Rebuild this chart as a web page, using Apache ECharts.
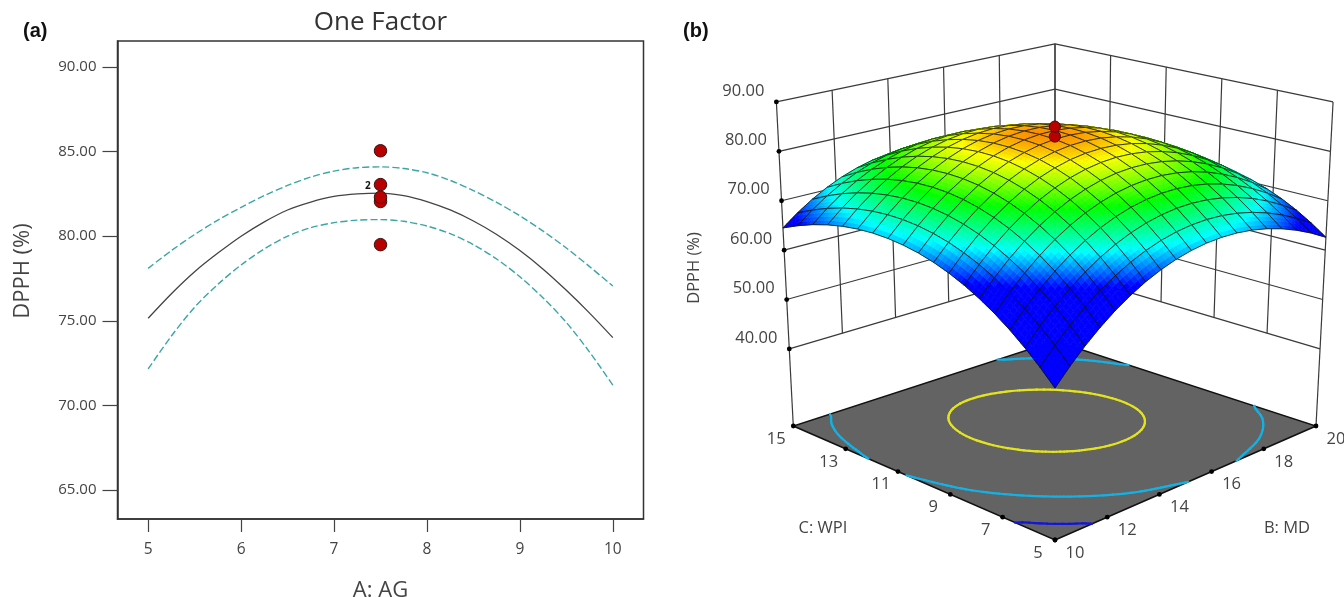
<!DOCTYPE html>
<html>
<head>
<meta charset="utf-8">
<style>html,body{margin:0;padding:0;background:#fff}#chart{width:1344px;height:597px}</style>
<script src="https://cdn.jsdelivr.net/npm/echarts@6/dist/echarts.min.js"></script>
</head>
<body>
<div id="chart"></div>
<script>
// ---------- panel (a) values ----------
const agValues = [5,5.25,5.5,5.75,6,6.25,6.5,6.75,7,7.25,7.5,7.75,8,8.25,8.5,8.75,9,9.25,9.5,9.75,10];
const meanCurve = [75.15,76.6,77.9,79.0,80.0,80.85,81.55,82.02,82.35,82.5,82.55,82.4,82.05,81.55,80.9,80.1,79.15,78.05,76.8,75.45,74.0];
const upperBand = [78.1,79.15,80.1,80.95,81.7,82.4,83.0,83.5,83.85,84.05,84.1,84.0,83.75,83.3,82.7,82.0,81.2,80.3,79.3,78.2,77.05];
const lowerBand = [72.15,74.1,75.8,77.15,78.3,79.25,80.0,80.5,80.8,80.95,80.98,80.88,80.6,80.15,79.5,78.65,77.6,76.35,74.9,73.15,71.2];
const designX = [7.5, 7.5, 7.5, 7.5, 7.5];
const designY = [85.05, 83.05, 82.05, 82.3, 79.5];
const agTicks = [5, 6, 7, 8, 9, 10];
const dpphTicks = [65, 70, 75, 80, 85, 90];

// ---------- panel (b) values ----------
const mdTicks = [10, 12, 14, 16, 18, 20];
const wpiTicks = [5, 7, 9, 11, 13, 15];
const surfaceZTicks = [40, 50, 60, 70, 80, 90];
const surfacePoints = [83.05, 85.05];
const contourLevels = [60, 69.7, 80];
const mdGrid = [10,10.556,11.111,11.667,12.222,12.778,13.333,13.889,14.444,15,15.556,16.111,16.667,17.222,17.778,18.333,18.889,19.444,20];
const wpiGrid = [5,5.556,6.111,6.667,7.222,7.778,8.333,8.889,9.444,10,10.556,11.111,11.667,12.222,12.778,13.333,13.889,14.444,15];
// one row per WPI value, one column per MD value
const dpphRows = [
[52.80,55.84,58.59,61.04,63.21,65.07,66.65,67.92,68.91,69.60,70.00,70.10,69.91,69.43,68.65,67.58,66.21,64.55,62.60],
[55.64,58.64,61.35,63.76,65.88,67.70,69.24,70.47,71.42,72.07,72.42,72.48,72.25,71.72,70.90,69.79,68.38,66.68,64.69],
[58.23,61.19,63.85,66.22,68.30,70.08,71.57,72.76,73.67,74.27,74.59,74.61,74.33,73.76,72.90,71.75,70.30,68.55,66.52],
[60.56,63.47,66.09,68.42,70.46,72.20,73.65,74.80,75.66,76.22,76.50,76.47,76.16,75.55,74.64,73.45,71.95,70.17,68.09],
[62.63,65.50,68.08,70.37,72.36,74.06,75.46,76.57,77.39,77.91,78.14,78.08,77.72,77.07,76.12,74.88,73.35,71.52,69.40],
[64.44,67.27,69.81,72.05,74.00,75.66,77.02,78.09,78.87,79.35,79.53,79.43,79.03,78.33,77.35,76.07,74.49,72.62,70.46],
[65.99,68.78,71.28,73.48,75.39,77.00,78.32,79.35,80.08,80.52,80.67,80.52,80.08,79.34,78.31,76.99,75.37,73.46,71.26],
[67.28,70.03,72.49,74.65,76.51,78.09,79.37,80.35,81.04,81.44,81.54,81.35,80.87,80.09,79.02,77.66,75.99,74.04,71.80],
[68.32,71.03,73.44,75.56,77.38,78.91,80.15,81.09,81.74,82.10,82.16,81.93,81.40,80.58,79.47,78.06,76.36,74.37,72.08],
[69.10,71.76,74.13,76.21,77.99,79.48,80.68,81.58,82.19,82.50,82.52,82.25,81.68,80.82,79.66,78.21,76.47,74.43,72.10],
[69.62,72.24,74.57,76.61,78.35,79.79,80.95,81.81,82.37,82.64,82.62,82.30,81.70,80.79,79.59,78.10,76.32,74.24,71.87],
[69.88,72.46,74.75,76.74,78.44,79.85,80.96,81.78,82.30,82.53,82.46,82.11,81.45,80.51,79.27,77.74,75.91,73.79,71.37],
[69.89,72.43,74.67,76.62,78.28,79.64,80.71,81.49,81.97,82.16,82.05,81.65,80.96,79.97,78.69,77.11,75.24,73.08,70.62],
[69.64,72.13,74.33,76.24,77.86,79.18,80.21,80.94,81.38,81.53,81.38,80.93,80.20,79.17,77.85,76.23,74.32,72.11,69.61],
[69.13,71.58,73.74,75.61,77.18,78.46,79.44,80.13,80.53,80.64,80.45,79.96,79.18,78.11,76.75,75.09,73.13,70.89,68.35],
[68.36,70.77,72.89,74.71,76.24,77.48,78.42,79.07,79.43,79.49,79.26,78.73,77.91,76.80,75.39,73.69,71.69,69.40,66.82],
[67.33,69.70,71.78,73.56,75.05,76.24,77.14,77.75,78.07,78.09,77.81,77.24,76.38,75.23,73.78,72.03,70.00,67.67,65.04],
[66.04,68.37,70.41,72.15,73.59,74.75,75.61,76.17,76.44,76.42,76.11,75.50,74.59,73.39,71.90,70.12,68.04,65.67,63.00],
[64.50,66.79,68.78,70.48,71.88,72.99,73.81,74.33,74.56,74.50,74.14,73.49,72.55,71.31,69.77,67.94,65.82,63.41,60.70]
];

const FONT = '"Open Sans","Noto Sans",sans-serif';
const INK = '#444';

// ---------- view of the 3D box (pixel space of the hidden second grid) ----------
const FLOOR_Z = 24.4;
function project(md, wpi, z) {
  const u = (md - 15) / 5, v = (wpi - 10) / 5, h = z - FLOOR_Z;
  const L = [793.3 - 0.258 * h, 426 - 4.94 * h];
  const R = [1316 + 0.26 * h, 426 - 4.94 * h];
  const B = [1055, 341 - 4.53 * h];
  const F = [1055, 540 - 5.35 * h];
  const wL = (1 - u) * (1 + v) / 4, wR = (1 + u) * (1 - v) / 4, wB = (1 + u) * (1 + v) / 4, wF = (1 - u) * (1 - v) / 4;
  return [
    wL * L[0] + wR * R[0] + wB * B[0] + wF * F[0],
    wL * L[1] + wR * R[1] + wB * B[1] + wF * F[1] - 7 * (1 - u * u) * (1 - v * v)
  ];
}
const colorStops = [[66.3, [0,0,255]], [70.8, [0,255,255]], [76, [0,255,0]], [80.8, [255,255,0]], [82.7, [255,136,0]]];
function surfaceColor(z) {
  if (z <= colorStops[0][0]) return 'rgb(0,0,255)';
  for (let i = 1; i < colorStops.length; i++) {
    if (z <= colorStops[i][0]) {
      const a = colorStops[i - 1], b = colorStops[i], t = (z - a[0]) / (b[0] - a[0]);
      return 'rgb(' + a[1].map((c, k) => Math.round(c + (b[1][k] - c) * t)).join(',') + ')';
    }
  }
  return 'rgb(255,136,0)';
}
function layer(name, items, draw, z) {
  return {
    type: 'custom', name, coordinateSystem: 'cartesian2d', xAxisIndex: 1, yAxisIndex: 1,
    data: items.map((_, i) => [i, 0]), clip: false, silent: true, animation: false, progressive: 0, z,
    renderItem: (p, api) => draw(items[p.dataIndex], api)
  };
}
const at = (api, md, wpi, z) => api.coord(project(md, wpi, z));

// walls
const wallLines = [];
const mdMin = mdTicks[0], mdMax = mdTicks[5], wMin = wpiTicks[0], wMax = wpiTicks[5];
const zLow = surfaceZTicks[0], zTop = surfaceZTicks[5];
surfaceZTicks.forEach(z => {
  wallLines.push([[mdMin, wMax, z], [mdMax, wMax, z]]);
  wallLines.push([[mdMax, wMin, z], [mdMax, wMax, z]]);
});
mdTicks.slice(1).forEach(b => wallLines.push([[b, wMax, zLow], [b, wMax, zTop]]));
wpiTicks.slice(1).forEach(c => wallLines.push([[mdMax, c, zLow], [mdMax, c, zTop]]));
wallLines.push([[mdMin, wMax, FLOOR_Z], [mdMin, wMax, zTop]]);
wallLines.push([[mdMax, wMin, FLOOR_Z], [mdMax, wMin, zTop]]);
function drawSegment(seg, api) {
  const a = at(api, ...seg[0]), b = at(api, ...seg[1]);
  return { type: 'line', shape: { x1: a[0], y1: a[1], x2: b[0], y2: b[1] }, style: { stroke: '#3a3a3a', lineWidth: 1.2 } };
}

// floor
function drawFloor(_, api) {
  const pts = [[mdMin, wMin], [mdMax, wMin], [mdMax, wMax], [mdMin, wMax]].map(p => at(api, p[0], p[1], FLOOR_Z));
  return { type: 'polygon', shape: { points: pts }, style: { fill: '#636363', stroke: '#111', lineWidth: 1.5 } };
}

// floor contours traced through the value table on a finer smooth lookup
const contourColors = { 60: '#1414e0', 69.7: '#12b2e6', 80: '#e4e41c' };
const CR = (a, b, c, d, t) => 0.5 * (2 * b + (c - a) * t + (2 * a - 5 * b + 4 * c - d) * t * t + (3 * b - a - 3 * c + d) * t * t * t);
const N = mdGrid.length - 1, FINE = 4;
const idx = k => Math.max(0, Math.min(N, k));
function rowAt(r, s) {
  const i = Math.min(N - 1, Math.floor(s)), t = s - i, R = dpphRows[r];
  return CR(R[idx(i - 1)], R[i], R[i + 1], R[idx(i + 2)], t);
}
function zFine(s, q) {
  const j = Math.min(N - 1, Math.floor(q)), t = q - j;
  return CR(rowAt(idx(j - 1), s), rowAt(j, s), rowAt(j + 1, s), rowAt(idx(j + 2), s), t);
}
function drawContour(level, api) {
  const children = [], M = N * FINE;
  const toMd = s => mdMin + (mdMax - mdMin) * s / M, toW = q => wMin + (wMax - wMin) * q / M;
  for (let j = 0; j < M; j++) for (let i = 0; i < M; i++) {
    const c = [[i, j], [i + 1, j], [i + 1, j + 1], [i, j + 1]];
    const zs = c.map(p => zFine(p[0] / FINE, p[1] / FINE));
    const hits = [];
    for (let k = 0; k < 4; k++) {
      const p = c[k], q = c[(k + 1) % 4], zp = zs[k], zq = zs[(k + 1) % 4];
      if ((zp < level) !== (zq < level)) {
        const t = (level - zp) / (zq - zp);
        hits.push(at(api, toMd(p[0] + (q[0] - p[0]) * t), toW(p[1] + (q[1] - p[1]) * t), FLOOR_Z));
      }
    }
    for (let h = 0; h + 1 < hits.length; h += 2) {
      children.push({ type: 'line', shape: { x1: hits[h][0], y1: hits[h][1], x2: hits[h + 1][0], y2: hits[h + 1][1] },
        style: { stroke: contourColors[level], lineWidth: 2.2, lineCap: 'round' } });
    }
  }
  return { type: 'group', children };
}

// surface cells, far corner first
const cells = [];
for (let j = 0; j < N; j++) for (let i = 0; i < N; i++) cells.push([i, j]);
cells.sort((p, q) => (q[0] + q[1]) - (p[0] + p[1]));
const SUB = 4;
function drawCell(cell, api) {
  const i = cell[0], j = cell[1];
  const b0 = mdGrid[i], b1 = mdGrid[i + 1], c0 = wpiGrid[j], c1 = wpiGrid[j + 1];
  const z00 = dpphRows[j][i], z10 = dpphRows[j][i + 1], z01 = dpphRows[j + 1][i], z11 = dpphRows[j + 1][i + 1];
  const sample = (s, t) => {
    const z = (1 - s) * (1 - t) * z00 + s * (1 - t) * z10 + (1 - s) * t * z01 + s * t * z11;
    return { z, p: at(api, b0 + (b1 - b0) * s, c0 + (c1 - c0) * t, z) };
  };
  const children = [];
  for (let m = 0; m < SUB; m++) for (let n = 0; n < SUB; n++) {
    const a = sample(m / SUB, n / SUB), b = sample((m + 1) / SUB, n / SUB), c = sample((m + 1) / SUB, (n + 1) / SUB), d = sample(m / SUB, (n + 1) / SUB);
    const col = surfaceColor((a.z + b.z + c.z + d.z) / 4);
    children.push({ type: 'polygon', shape: { points: [a.p, b.p, c.p, d.p] }, style: { fill: col, stroke: col, lineWidth: 0.7 } });
  }
  const outline = [sample(0, 0).p, sample(1, 0).p, sample(1, 1).p, sample(0, 1).p];
  children.push({ type: 'polygon', shape: { points: outline }, style: { fill: 'none', stroke: 'rgba(10,20,10,0.78)', lineWidth: 1 } });
  return { type: 'group', children };
}

// design points above the surface
function drawPoint(z, api) {
  const p = at(api, 15, 10, z);
  return { type: 'circle', shape: { cx: p[0], cy: p[1], r: 5.6 }, style: { fill: '#b80000', stroke: '#3a1010', lineWidth: 1 } };
}

// axis dots and texts
const dots = [];
surfaceZTicks.forEach(z => dots.push([mdMin, wMax, z]));
mdTicks.forEach(b => dots.push([b, wMin, FLOOR_Z]));
wpiTicks.forEach(c => dots.push([mdMin, c, FLOOR_Z]));
function drawDot(d, api) {
  const p = at(api, d[0], d[1], d[2]);
  return { type: 'circle', shape: { cx: p[0], cy: p[1], r: 2.4 }, style: { fill: '#000' } };
}
const texts = [];
surfaceZTicks.forEach(z => texts.push({ at: [mdMin, wMax, z], dx: -33, dy: -11, t: z.toFixed(2) }));
mdTicks.forEach(b => texts.push({ at: [b, wMin, FLOOR_Z], dx: 20, dy: 13, t: String(b) }));
wpiTicks.forEach(c => texts.push({ at: [mdMin, c, FLOOR_Z], dx: -17, dy: 13, t: String(c) }));
texts.push({ xy: [823, 528], t: 'C: WPI' });
texts.push({ xy: [1287, 528], t: 'B: MD' });
texts.push({ xy: [694, 268], t: 'DPPH (%)', rot: Math.PI / 2 });
function drawText(o, api) {
  const p = o.xy ? api.coord(o.xy) : at(api, ...o.at);
  return { type: 'text', x: p[0] + (o.dx || 0), y: p[1] + (o.dy || 0), rotation: o.rot || 0,
    style: { text: o.t, fill: INK, font: '16.5px ' + FONT, textAlign: 'center', textVerticalAlign: 'middle' } };
}

// ---------- panel (a) series ----------
const zip = (xs, ys) => xs.map((x, i) => [x, ys[i]]);
const option = {
  backgroundColor: '#fff',
  animation: false,
  title: [
    { text: 'One Factor', left: 375.5, top: 5, textAlign: 'center', textStyle: { fontFamily: FONT, fontSize: 26, fontWeight: 'normal', color: '#333' } },
    { text: '(a)', left: 18, top: 16, textStyle: { fontFamily: '"Liberation Sans",sans-serif', fontSize: 20, fontWeight: 'bold', color: '#111' } },
    { text: '(b)', left: 678, top: 16, textStyle: { fontFamily: '"Liberation Sans",sans-serif', fontSize: 20, fontWeight: 'bold', color: '#111' } },
    { text: 'DPPH (%)', show: false }
  ],
  grid: [
    { left: 117.5, top: 41, width: 526, height: 478, show: true, outerBoundsMode: 'none', borderColor: '#333', borderWidth: 1.5, backgroundColor: '#fff' },
    { left: 670, top: 0, width: 674, height: 597, show: false, outerBoundsMode: 'none' }
  ],
  xAxis: [
    { type: 'value', gridIndex: 0, min: 4.67, max: 10.33, name: 'A: AG', nameLocation: 'middle', nameGap: 61,
      nameTextStyle: { fontFamily: FONT, fontSize: 22, color: INK },
      splitLine: { show: false },
      axisLine: { lineStyle: { color: '#333', width: 1.5 } },
      axisTick: { length: 13, customValues: agTicks, lineStyle: { color: '#444', width: 1.2 } },
      axisLabel: { customValues: agTicks, margin: 23, fontFamily: FONT, fontSize: 15.5, color: INK, showMinLabel: true, showMaxLabel: true } },
    { type: 'value', gridIndex: 1, min: 670, max: 1344, show: false, splitLine: { show: false } }
  ],
  yAxis: [
    { type: 'value', gridIndex: 0, min: 63.28, max: 91.54, name: 'DPPH (%)', nameLocation: 'middle', nameGap: 84, nameRotate: 90,
      nameTextStyle: { fontFamily: FONT, fontSize: 22, color: INK, padding: [0, 0, 0, 18] },
      splitLine: { show: false },
      axisLine: { lineStyle: { color: '#333', width: 1.5 } },
      axisTick: { length: 15, customValues: dpphTicks, lineStyle: { color: '#444', width: 1.2 } },
      axisLabel: { customValues: dpphTicks, margin: 21, fontFamily: FONT, fontSize: 15, color: INK, formatter: v => v.toFixed(2) } },
    { type: 'value', gridIndex: 1, min: 0, max: 597, inverse: true, show: false, splitLine: { show: false } }
  ],
  series: [
    { type: 'line', name: 'Prediction', data: zip(agValues, meanCurve), smooth: 0.3, showSymbol: false, z: 3, silent: true,
      lineStyle: { color: '#444', width: 1.3 } },
    { type: 'line', name: 'Upper CI', data: zip(agValues, upperBand), smooth: 0.3, showSymbol: false, z: 3, silent: true,
      lineStyle: { color: '#3aa6a6', width: 1.4, type: [7, 3] } },
    { type: 'line', name: 'Lower CI', data: zip(agValues, lowerBand), smooth: 0.3, showSymbol: false, z: 3, silent: true,
      lineStyle: { color: '#3aa6a6', width: 1.4, type: [7, 3] } },
    { type: 'scatter', name: 'Design points', symbolSize: 12.5, z: 5, silent: true,
      itemStyle: { color: '#b80000', borderColor: '#3a1010', borderWidth: 1, opacity: 1 },
      data: zip(designX, designY).map((p, i) => i === 1
        ? { value: p, label: { show: true, position: 'left', distance: 3, offset: [0, 2], formatter: '2', fontFamily: FONT, fontWeight: 'bold', fontSize: 10, color: '#111' } }
        : p) },
    layer('Walls', wallLines, drawSegment, 2),
    layer('Floor', [0], drawFloor, 3),
    layer('Contours', contourLevels, drawContour, 4),
    layer('Surface', cells, drawCell, 5),
    layer('Surface points', surfacePoints, drawPoint, 6),
    layer('Axis dots', dots, drawDot, 7),
    layer('Axis text', texts, drawText, 8)
  ]
};
echarts.init(document.getElementById('chart')).setOption(option);
</script>
</body>
</html>
